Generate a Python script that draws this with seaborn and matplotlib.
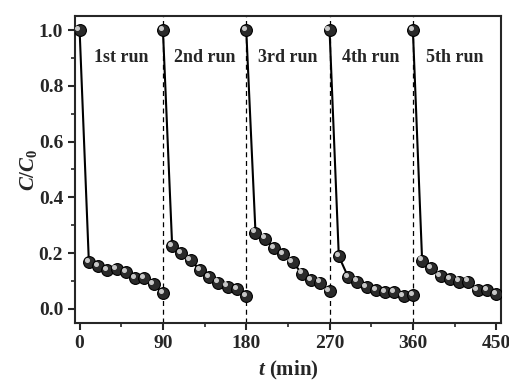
import numpy as np
import pandas as pd
import seaborn as sns
import matplotlib.pyplot as plt
import matplotlib.transforms as mtransforms
from matplotlib.ticker import MultipleLocator

runs = ["1st run", "2nd run", "3rd run", "4th run", "5th run"]
t_in_run = [0, 10, 20, 30, 40, 50, 60, 70, 80, 90]
run1 = [1.0, 0.169, 0.154, 0.139, 0.142, 0.133, 0.110, 0.110, 0.089, 0.056]
run2 = [1.0, 0.225, 0.200, 0.175, 0.139, 0.113, 0.094, 0.080, 0.071, 0.046]
run3 = [1.0, 0.274, 0.252, 0.219, 0.196, 0.169, 0.127, 0.104, 0.094, 0.064]
run4 = [1.0, 0.189, 0.115, 0.098, 0.077, 0.068, 0.060, 0.060, 0.046, 0.050]
run5 = [1.0, 0.173, 0.145, 0.119, 0.106, 0.098, 0.098, 0.068, 0.068, 0.052]
run_starts = [0, 90, 180, 270, 360]

rows = []
for name, start, vals in zip(runs, run_starts, [run1, run2, run3, run4, run5]):
    for t, v in zip(t_in_run, vals):
        rows.append({"run": name, "t": start + t, "c": v})
df = pd.DataFrame(rows)

sns.set_style("ticks")
plt.rcParams["font.family"] = ["Liberation Serif", "DejaVu Serif"]
plt.rcParams["font.weight"] = "bold"
plt.rcParams["mathtext.fontset"] = "custom"
plt.rcParams["mathtext.it"] = "Liberation Serif:italic:bold"
plt.rcParams["mathtext.rm"] = "Liberation Serif:bold"

fig, ax = plt.subplots(figsize=(5.1, 3.83), dpi=100)

# dashed separators between runs
for x in run_starts[1:]:
    ax.axvline(x, color="black", ls=(0, (4, 3)), lw=0.9, zorder=1)

sns.lineplot(data=df, x="t", y="c", units="run", estimator=None, color="black",
             lw=1.5, marker="o", markersize=8.5, markerfacecolor="#2a2a2a",
             markeredgecolor="black", markeredgewidth=0.8, ax=ax, zorder=3)

# small highlight to mimic shaded spheres
shift = mtransforms.offset_copy(ax.transData, fig=fig, x=-1.6, y=1.6, units="points")
ax.plot(df["t"], df["c"], ls="none", marker="o", markersize=2.6,
        color="#c8c8c8", transform=shift, zorder=4)

for name, start in zip(runs, run_starts):
    ax.text(start + 45, 0.9, name, ha="center", va="center", fontsize=13,
            fontweight="bold")

ax.set_xlim(-5, 455)
ax.set_ylim(-0.05, 1.05)
ax.xaxis.set_major_locator(MultipleLocator(90))
ax.xaxis.set_minor_locator(MultipleLocator(45))
ax.yaxis.set_major_locator(MultipleLocator(0.2))
ax.yaxis.set_minor_locator(MultipleLocator(0.1))
ax.yaxis.set_major_formatter(plt.FormatStrFormatter("%.1f"))
ax.tick_params(which="major", direction="out", length=5, width=1.5, labelsize=14)
ax.tick_params(which="minor", direction="out", length=3, width=1.2)
for lab in ax.get_xticklabels() + ax.get_yticklabels():
    lab.set_fontweight("bold")
for sp in ax.spines.values():
    sp.set_linewidth(1.5)

ax.set_xlabel(r"$t$ (min)", fontsize=15, fontweight="bold", labelpad=5)
ax.set_ylabel(r"$C/C_0$", fontsize=15, fontweight="bold", labelpad=0)

fig.subplots_adjust(left=0.147, right=0.982, top=0.958, bottom=0.157)
fig.savefig("out.png", dpi=100)
